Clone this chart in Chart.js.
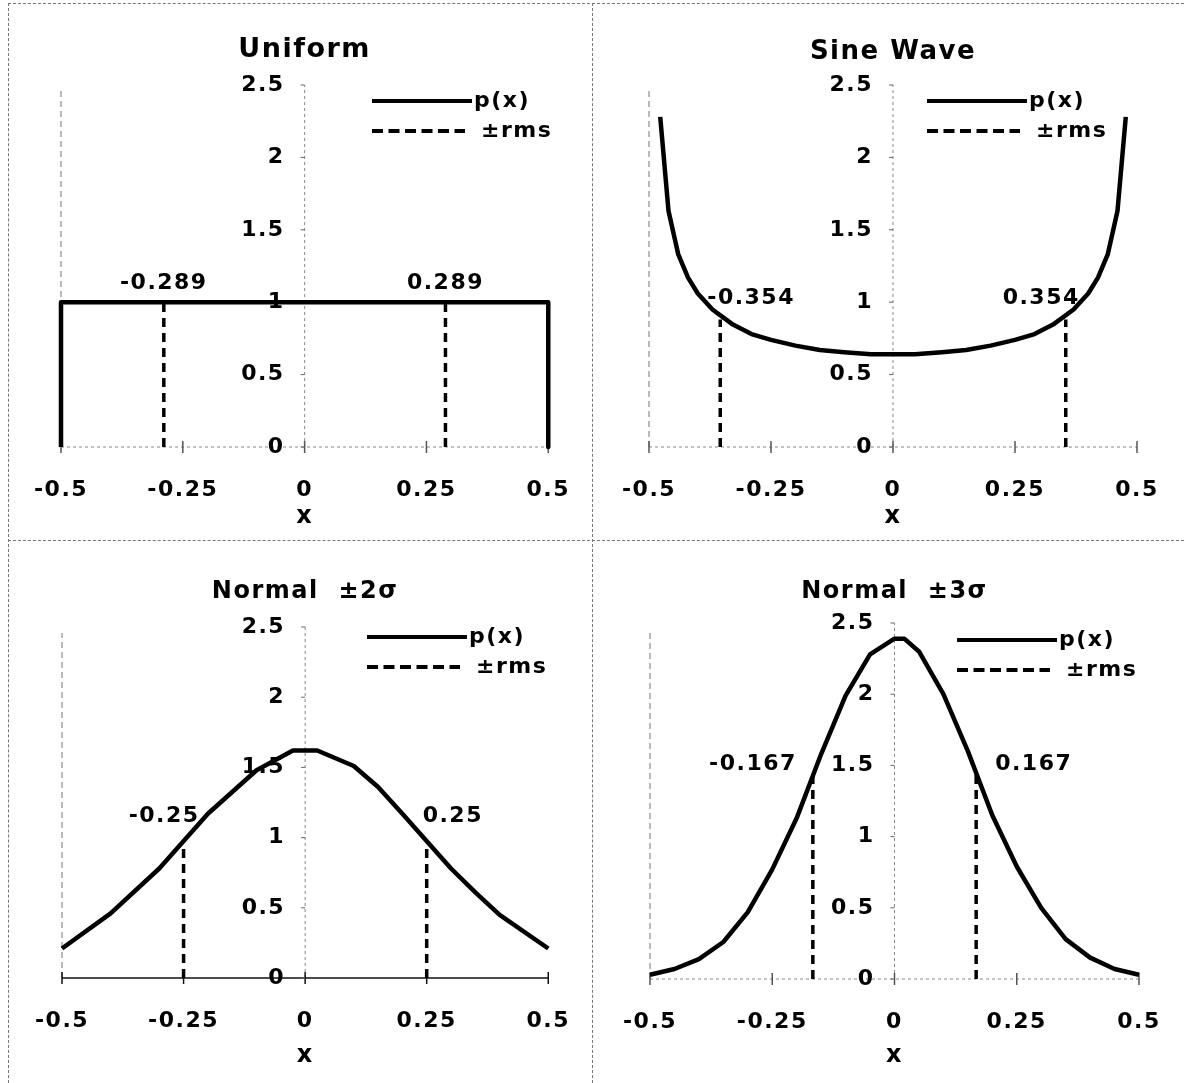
<!DOCTYPE html>
<html>
<head>
<meta charset="utf-8">
<script src="https://cdn.jsdelivr.net/npm/chart.js@4.4.1/dist/chart.umd.min.js"></script>
<style>
	body { margin: 0; background: #fff; }
	#page { position: relative; width: 1184px; height: 1083px; overflow: hidden; background: #fff; }
	canvas { position: absolute; }
	.rule-h { position: absolute; height: 0; border-top: 1px dashed #777; }
	.rule-v { position: absolute; width: 0; border-left: 1px dashed #777; }
</style>
</head>
<body>
<div id="page">
	<canvas id="uniform" width="592" height="540" style="left:0;top:0"></canvas>
	<canvas id="sine" width="592" height="540" style="left:592px;top:0"></canvas>
	<canvas id="normal2" width="592" height="543" style="left:0;top:540px"></canvas>
	<canvas id="normal3" width="592" height="543" style="left:592px;top:540px"></canvas>
	<div class="rule-h" style="left:8px;top:3px;width:1176px"></div>
	<div class="rule-h" style="left:8px;top:540px;width:1176px"></div>
	<div class="rule-v" style="left:8px;top:3px;height:1080px"></div>
	<div class="rule-v" style="left:592px;top:3px;height:1080px"></div>
</div>
<script>
// ---------- data ----------
const xTicks = [-0.5, -0.25, 0, 0.25, 0.5];
const yTicks = [0, 0.5, 1, 1.5, 2, 2.5];
const legendLabels = ['p(x)', '\u00b1rms'];

const uniformX = [-0.5, -0.5, 0.5, 0.5];
const uniformP = [0, 1, 1, 0];
const uniformRms = [-0.289, 0.289];
const uniformRmsP = [1, 1];

const sineX = [-0.477, -0.46, -0.44, -0.42, -0.4, -0.37, -0.33, -0.29, -0.25, -0.2, -0.15, -0.1, -0.045,
	0.045, 0.1, 0.15, 0.2, 0.25, 0.29, 0.33, 0.37, 0.4, 0.42, 0.44, 0.46, 0.477];
const sineP = [2.28, 1.63, 1.33, 1.17, 1.06, 0.95, 0.85, 0.78, 0.74, 0.7, 0.67, 0.655, 0.64,
	0.64, 0.655, 0.67, 0.7, 0.74, 0.78, 0.85, 0.95, 1.06, 1.17, 1.33, 1.63, 2.28];
const sineRms = [-0.354, 0.354];
const sineRmsP = [0.88, 0.88];

const normal2X = [-0.5, -0.4, -0.3, -0.2, -0.1, -0.025, 0.025, 0.1, 0.15, 0.2, 0.3, 0.35, 0.4, 0.5];
const normal2P = [0.21, 0.46, 0.78, 1.17, 1.48, 1.62, 1.62, 1.51, 1.36, 1.17, 0.78, 0.61, 0.45, 0.21];
const normal2Rms = [-0.25, 0.25];
const normal2RmsP = [0.96, 0.96];

const normal3X = [-0.5, -0.45, -0.4, -0.35, -0.3, -0.25, -0.2, -0.15, -0.1, -0.05, 0, 0.02,
	0.05, 0.1, 0.15, 0.2, 0.25, 0.3, 0.35, 0.4, 0.45, 0.5];
const normal3P = [0.03, 0.07, 0.14, 0.26, 0.47, 0.77, 1.13, 1.58, 1.99, 2.28, 2.39, 2.39,
	2.3, 2.0, 1.6, 1.15, 0.79, 0.5, 0.28, 0.15, 0.07, 0.03];
const normal3Rms = [-0.167, 0.167];
const normal3RmsP = [1.45, 1.45];

// ---------- layout per panel ----------
const FONT = '"DejaVu Sans", sans-serif';

const panels = [
	{
		id: 'uniform', title: 'Uniform', titleSize: 27, xs: uniformX, ps: uniformP, rms: uniformRms, rmsP: uniformRmsP,
		frame: { left: 61, right: 549, top: 85, bottom: 447 }, titleY: 50, xTitleY: 517,
		legend: { x: 372, y: 101 }, labelY: 1.13, labelAlign: ['center', 'center'], labelDx: [0, 0], solidAxis: false,
	},
	{
		id: 'sine', title: 'Sine Wave', titleSize: 26, xs: sineX, ps: sineP, rms: sineRms, rmsP: sineRmsP,
		frame: { left: 57, right: 545, top: 85, bottom: 447 }, titleY: 52, xTitleY: 517,
		legend: { x: 335, y: 101 }, labelY: 1.03, labelAlign: ['left', 'right'], labelDx: [-13, 14], solidAxis: false,
	},
	{
		id: 'normal2', title: 'Normal  \u00b12\u03c3', titleSize: 24, xs: normal2X, ps: normal2P, rms: normal2Rms, rmsP: normal2RmsP,
		frame: { left: 62, right: 549, top: 87, bottom: 438 }, titleY: 52, xTitleY: 516,
		legend: { x: 367, y: 97 }, labelY: 1.15, labelAlign: ['right', 'left'], labelDx: [16, -4], solidAxis: true,
	},
	{
		id: 'normal3', title: 'Normal  \u00b13\u03c3', titleSize: 24, xs: normal3X, ps: normal3P, rms: normal3Rms, rmsP: normal3RmsP,
		frame: { left: 58, right: 547, top: 83, bottom: 439 }, titleY: 52, xTitleY: 516,
		legend: { x: 365, y: 100 }, labelY: 1.51, labelAlign: ['right', 'left'], labelDx: [-16, 19], solidAxis: false,
	},
];

function makeChart(p) {
	const canvas = document.getElementById(p.id);
	const W = canvas.width;
	const H = canvas.height;
	const f = p.frame;
	const tickFont = { family: FONT, size: 22, weight: 'bold' };
	const titleHalf = (p.titleSize * 1.2) / 2;

	const curve = p.xs.map((x, i) => ({ x: x, y: p.ps[i] }));
	const rmsSets = p.rms.map((r, i) => ({
		data: [{ x: r, y: 0 }, { x: r, y: p.rmsP[i] }],
		borderColor: '#000',
		borderWidth: 3.5,
		borderDash: [9, 6],
		pointRadius: 0,
		tension: 0,
		clip: false,
	}));

	// axes through the origin, legend and the rms value labels
	const decor = {
		id: 'decor',
		beforeLayout(chart) {
			chart.ctx.letterSpacing = '1.5px';
		},
		beforeDatasetsDraw(chart) {
			const { ctx, scales: { x, y } } = chart;
			const x0 = x.getPixelForValue(0);
			const y0 = y.getPixelForValue(0);
			const yTop = y.getPixelForValue(2.5);
			const xl = x.getPixelForValue(-0.5);
			const xr = x.getPixelForValue(0.5);
			ctx.save();
			// frame line at x = -0.5
			ctx.strokeStyle = '#777';
			ctx.lineWidth = 1;
			ctx.setLineDash([6, 4]);
			ctx.beginPath();
			ctx.moveTo(xl, y0);
			ctx.lineTo(xl, yTop + 6);
			ctx.stroke();
			// y axis at x = 0
			ctx.strokeStyle = '#888';
			ctx.setLineDash([3, 3]);
			ctx.beginPath();
			ctx.moveTo(x0, y0);
			ctx.lineTo(x0, yTop);
			ctx.stroke();
			// x axis at y = 0
			if (p.solidAxis) {
				ctx.strokeStyle = '#111';
				ctx.lineWidth = 1.5;
				ctx.setLineDash([]);
			}
			ctx.beginPath();
			ctx.moveTo(xl, y0);
			ctx.lineTo(xr, y0);
			ctx.stroke();
			// x tick marks
			ctx.setLineDash([]);
			ctx.strokeStyle = p.solidAxis ? '#111' : '#555';
			ctx.lineWidth = 1.5;
			xTicks.forEach((v) => {
				const px = x.getPixelForValue(v);
				ctx.beginPath();
				ctx.moveTo(px, y0 - 6);
				ctx.lineTo(px, y0 + 6);
				ctx.stroke();
			});
			// y tick marks and labels, left of the axis
			ctx.strokeStyle = '#666';
			ctx.lineWidth = 1;
			ctx.fillStyle = '#000';
			ctx.font = 'bold 22px ' + FONT;
			ctx.textAlign = 'right';
			ctx.textBaseline = 'middle';
			yTicks.forEach((v) => {
				const py = y.getPixelForValue(v);
				ctx.beginPath();
				ctx.moveTo(x0 - 4, py);
				ctx.lineTo(x0, py);
				ctx.stroke();
				ctx.fillText(String(v), x0 - 20, py);
			});
			ctx.restore();
		},
		afterDraw(chart) {
			const { ctx, scales: { x, y } } = chart;
			ctx.save();
			ctx.fillStyle = '#000';
			ctx.strokeStyle = '#000';
			ctx.font = 'bold 22px ' + FONT;
			ctx.textBaseline = 'middle';

			// legend
			const lx = p.legend.x;
			const ly = p.legend.y;
			ctx.lineWidth = 4;
			ctx.setLineDash([]);
			ctx.beginPath();
			ctx.moveTo(lx, ly);
			ctx.lineTo(lx + 100, ly);
			ctx.stroke();
			ctx.textAlign = 'left';
			ctx.fillText(legendLabels[0], lx + 102, ly);
			ctx.setLineDash([11, 5.5]);
			ctx.beginPath();
			ctx.moveTo(lx, ly + 30);
			ctx.lineTo(lx + 93, ly + 30);
			ctx.stroke();
			ctx.fillText(legendLabels[1], lx + 109, ly + 30);

			// rms labels
			p.rms.forEach((r, i) => {
				ctx.textAlign = p.labelAlign[i];
				ctx.fillText(String(r), x.getPixelForValue(r) + p.labelDx[i], y.getPixelForValue(p.labelY));
			});
			ctx.restore();
		},
	};

	return new Chart(canvas, {
		type: 'line',
		data: {
			datasets: [
				{
					data: curve,
					borderColor: '#000',
					borderWidth: 4.5,
					pointRadius: 0,
					tension: 0,
					clip: false,
					borderJoinStyle: 'round',
				},
				...rmsSets,
			],
		},
		options: {
			responsive: false,
			animation: false,
			events: [],
			layout: {
				padding: { left: f.left, right: W - f.right, top: 0, bottom: 0 },
			},
			plugins: {
				legend: { display: false },
				tooltip: { enabled: false },
				title: {
					display: true,
					text: p.title,
					fullSize: false,
					color: '#000',
					font: { family: FONT, size: p.titleSize, weight: 'bold' },
					padding: { top: p.titleY - titleHalf, bottom: f.top - p.titleY - titleHalf },
				},
			},
			scales: {
				x: {
					type: 'linear',
					min: -0.5,
					max: 0.5,
					afterBuildTicks: (s) => {
						s.ticks = xTicks.map((v) => ({ value: v }));
					},
					afterFit: (s) => {
						s.height = H - f.bottom;
					},
					ticks: {
						color: '#000',
						font: tickFont,
						padding: 22,
						maxRotation: 0,
						autoSkip: false,
						callback: (v) => String(v),
					},
					grid: { display: false },
					border: { display: false },
					title: {
						display: true,
						text: 'x',
						color: '#000',
						font: { family: FONT, size: 24, weight: 'bold' },
						padding: { top: 0, bottom: H - p.xTitleY - 14.4 },
					},
				},
				y: {
					type: 'linear',
					display: false,
					min: 0,
					max: 2.5,
				},
			},
		},
		plugins: [decor],
	});
}

panels.forEach(makeChart);
</script>
</body>
</html>
